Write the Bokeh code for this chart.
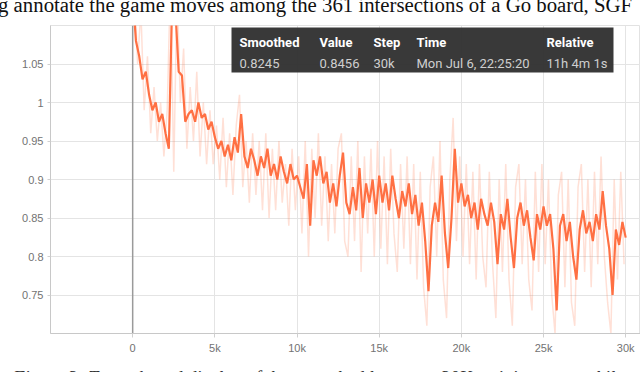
from bokeh.plotting import figure
from bokeh.layouts import column
from bokeh.models import Range1d, FixedTicker, Span, BoxAnnotation, Label, Div
from bokeh.embed import file_html
from bokeh.resources import INLINE

# ---------------- data ----------------
smoothed_steps = list(range(0, 30001, 200))
smoothed = [
    1.14, 1.08, 1.06, 1.03, 1.04, 1.01, 0.99, 1.00, 0.975, 0.985, 0.96, 0.94, 1.13,
    1.12, 1.04, 1.035, 0.975, 0.985, 0.99, 0.975, 1.0, 0.98, 0.985, 0.965, 0.975, 0.955,
    0.94, 0.95, 0.93, 0.945, 0.925, 0.955, 0.935, 0.985, 0.93, 0.915, 0.94, 0.925, 0.905,
    0.93, 0.915, 0.94, 0.905, 0.92, 0.90, 0.93, 0.91, 0.895, 0.92, 0.90, 0.905,
    0.89, 0.875, 0.92, 0.84, 0.925, 0.905, 0.93, 0.895, 0.91, 0.87, 0.895, 0.865, 0.905,
    0.935, 0.87, 0.855, 0.89, 0.86, 0.915, 0.85, 0.895, 0.87, 0.90, 0.855, 0.905,
    0.87, 0.895, 0.86, 0.905, 0.875, 0.85, 0.885, 0.865, 0.895, 0.855, 0.88, 0.84, 0.87,
    0.82, 0.755, 0.84, 0.87, 0.845, 0.905, 0.83, 0.785, 0.85, 0.94, 0.87, 0.895,
    0.865, 0.88, 0.85, 0.87, 0.835, 0.875, 0.855, 0.84, 0.87, 0.845, 0.79, 0.855, 0.835,
    0.875, 0.825, 0.785, 0.85, 0.87, 0.84, 0.86, 0.825, 0.795, 0.855, 0.835, 0.865,
    0.84, 0.855, 0.81, 0.73, 0.84, 0.855, 0.82, 0.845, 0.80, 0.77, 0.835, 0.86, 0.83,
    0.845, 0.82, 0.855, 0.835, 0.885, 0.84, 0.81, 0.75, 0.835, 0.815, 0.845, 0.8245,
]
raw_steps = list(range(100, 30000, 200))
raw = [
    1.15, 1.05, 1.12, 0.99, 1.06, 0.96, 1.02, 0.95, 1.0, 0.93, 0.99, 1.16, 0.91,
    1.15, 1.0, 1.07, 0.94, 1.02, 0.95, 1.04, 0.93, 1.0, 0.92, 0.99, 0.92,
    0.97, 0.9, 0.98, 0.89, 0.96, 0.88, 0.97, 1.01, 0.89, 0.95, 0.87, 0.96, 0.88,
    0.95, 0.86, 0.96, 0.85, 0.94, 0.86, 0.95, 0.87, 0.92, 0.84, 0.94, 0.86,
    0.93, 0.83, 0.95, 0.8, 0.94, 0.85, 0.96, 0.84, 0.93, 0.82, 0.92, 0.83, 0.94,
    0.96, 0.82, 0.8, 0.93, 0.82, 0.95, 0.78, 0.93, 0.83, 0.94, 0.8, 0.95,
    0.81, 0.93, 0.79, 0.94, 0.83, 0.78, 0.92, 0.81, 0.93, 0.79, 0.92, 0.77, 0.91,
    0.76, 0.71, 0.89, 0.93, 0.8, 0.95, 0.77, 0.72, 0.9, 0.98, 0.82, 0.93,
    0.8, 0.92, 0.79, 0.91, 0.77, 0.92, 0.8, 0.76, 0.91, 0.79, 0.72, 0.9, 0.78,
    0.92, 0.77, 0.71, 0.89, 0.92, 0.79, 0.9, 0.77, 0.73, 0.91, 0.78, 0.92,
    0.79, 0.9, 0.75, 0.70, 0.88, 0.91, 0.76, 0.9, 0.74, 0.71, 0.89, 0.92, 0.78,
    0.9, 0.76, 0.91, 0.79, 0.93, 0.8, 0.74, 0.70, 0.9, 0.77, 0.91, 0.79,
]
x_ticks = [0, 5000, 10000, 15000, 20000, 25000, 30000]
x_tick_labels = ["0", "5k", "10k", "15k", "20k", "25k", "30k"]
y_ticks = [0.75, 0.8, 0.85, 0.9, 0.95, 1.0, 1.05]
y_tick_labels = ["0.75", "0.8", "0.85", "0.9", "0.95", "1", "1.05"]

tooltip_headers = ["Smoothed", "Value", "Step", "Time", "Relative"]
tooltip_values = ["0.8245", "0.8456", "30k", "Mon Jul 6, 22:25:20", "11h 4m 1s"]

top_text = "g annotate the game moves among the 361 intersections of a Go board, SGF"
caption_text = "Figure 3: Tensorboard display of the smoothed loss over 30K training steps while"

# ---------------- layout ----------------
W = 640
TOP_H, FIG_H, CAP_H = 25, 335, 12     # 25 + 335 + 12 = 372
FL, FT, FB = 50, 25, 333             # frame edges in page pixels
X0, X1 = -5000, 30900
Y0, Y1 = 0.70, 1.10

def rx(px):
    return X0 + (px - FL) / (W - FL) * (X1 - X0)

def ry(py):
    return Y1 - (py - FT) / (FB - FT) * (Y1 - Y0)

p = figure(width=W, height=FIG_H, output_backend="svg", toolbar_location=None,
           x_range=Range1d(X0, X1), y_range=Range1d(Y0, Y1),
           min_border_left=FL, min_border_right=0, min_border_top=0,
           min_border_bottom=FIG_H - (FB - FT), margin=0)
p.outline_line_color = "#e2e2e2"
p.background_fill_color = "white"
p.border_fill_color = "white"

for ax, ticks, labels in ((p.xaxis[0], x_ticks, x_tick_labels), (p.yaxis[0], y_ticks, y_tick_labels)):
    ax.ticker = FixedTicker(ticks=ticks)
    ax.major_label_overrides = {t: l for t, l in zip(ticks, labels)}
    ax.minor_tick_line_color = None
    ax.axis_line_color = "#c8c8c8"
    ax.major_tick_line_color = "#d0d0d0"
    ax.major_tick_in = 0
    ax.major_label_text_font = "Liberation Sans"
    ax.major_label_text_font_size = "11px"
    ax.major_label_text_color = "#727272"
p.xaxis.major_tick_out = 4
p.xaxis.major_label_standoff = 4
p.yaxis.major_tick_out = 3
p.yaxis.major_label_standoff = 4

p.xgrid.ticker = FixedTicker(ticks=x_ticks)
p.ygrid.ticker = FixedTicker(ticks=y_ticks)
p.xgrid.grid_line_color = "#e4e4e4"
p.ygrid.grid_line_color = "#e4e4e4"

p.add_layout(Span(location=0, dimension="height", line_color="#9a9a9a", line_width=1.5, level="underlay"))

p.line(raw_steps, raw, line_color="#ff7043", line_alpha=0.22, line_width=1.5)
p.line(smoothed_steps, smoothed, line_color="#ff7043", line_width=2.2)

# tooltip
p.add_layout(BoxAnnotation(left=rx(231), right=rx(613), top=ry(27), bottom=ry(72),
                           fill_color="#2e2e2e", fill_alpha=0.95, line_color=None))
col_px = [239, 319, 373, 416, 546]
for px, h, v in zip(col_px, tooltip_headers, tooltip_values):
    p.add_layout(Label(x=rx(px), y=ry(41.5), text=h, text_font="Roboto", text_font_style="bold",
                       text_font_size="13px", text_color="white", text_baseline="middle"))
    p.add_layout(Label(x=rx(px), y=ry(63), text=v, text_font="Roboto",
                       text_font_size="13px", text_color="#cfcfcf", text_baseline="middle"))

# surrounding paper text (cropped, as in the reference)
top_html = (
    f'<div style="width:{W}px;height:{TOP_H}px;overflow:hidden;position:relative;">'
    f'<div style="position:absolute;left:-2px;top:-6px;font-family:\'Liberation Serif\';'
    f'font-size:20.8px;line-height:21px;white-space:nowrap;color:#111111;">{top_text}</div></div>'
)
cap_html = (
    f'<div style="width:{W}px;height:{CAP_H}px;overflow:hidden;position:relative;">'
    f'<div style="position:absolute;left:13px;top:8px;font-family:\'Liberation Serif\';'
    f'font-style:italic;font-size:18.7px;line-height:19px;white-space:nowrap;color:#333333;">'
    f'{caption_text}</div></div>'
)
top_div = Div(text=top_html, width=W, height=TOP_H, margin=0, styles={"overflow": "hidden"})
cap_div = Div(text=cap_html, width=W, height=CAP_H, margin=0, styles={"overflow": "hidden"})

layout = column(top_div, p, cap_div, spacing=0, margin=0)

open("out.html", "w").write(file_html(layout, INLINE))
